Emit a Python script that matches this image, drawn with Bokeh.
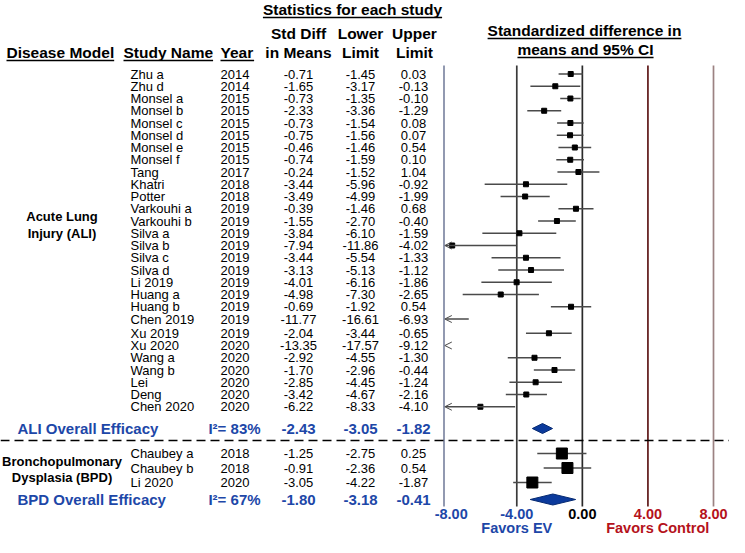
from bokeh.plotting import figure
from bokeh.models import Range1d, ColumnDataSource, Arrow, OpenHead
from bokeh.core.properties import value
from bokeh.embed import file_html
from bokeh.resources import INLINE

# ---------------- data ----------------
ali_names = ["Zhu a", "Zhu d", "Monsel a", "Monsel b", "Monsel c", "Monsel d", "Monsel e",
             "Monsel f", "Tang", "Khatri", "Potter", "Varkouhi a", "Varkouhi b", "Silva a",
             "Silva b", "Silva c", "Silva d", "Li 2019", "Huang a", "Huang b", "Chen 2019",
             "Xu 2019", "Xu 2020", "Wang a", "Wang b", "Lei", "Deng", "Chen 2020"]
ali_years = [2014, 2014, 2015, 2015, 2015, 2015, 2015, 2015, 2017, 2018, 2018, 2019, 2019,
             2019, 2019, 2019, 2019, 2019, 2019, 2019, 2019, 2019, 2020, 2020, 2020, 2020,
             2020, 2020]
ali_smd = [-0.71, -1.65, -0.73, -2.33, -0.73, -0.75, -0.46, -0.74, -0.24, -3.44, -3.49, -0.39,
           -1.55, -3.84, -7.94, -3.44, -3.13, -4.01, -4.98, -0.69, -11.77, -2.04, -13.35,
           -2.92, -1.70, -2.85, -3.42, -6.22]
ali_lower = [-1.45, -3.17, -1.35, -3.36, -1.54, -1.56, -1.46, -1.59, -1.52, -5.96, -4.99, -1.46,
             -2.70, -6.10, -11.86, -5.54, -5.13, -6.16, -7.30, -1.92, -16.61, -3.44, -17.57,
             -4.55, -2.96, -4.45, -4.67, -8.33]
ali_upper = [0.03, -0.13, -0.10, -1.29, 0.08, 0.07, 0.54, 0.10, 1.04, -0.92, -1.99, 0.68,
             -0.40, -1.59, -4.02, -1.33, -1.12, -1.86, -2.65, 0.54, -6.93, -0.65, -9.12,
             -1.30, -0.44, -1.24, -2.16, -4.10]
ali_overall = [-2.43, -3.05, -1.82]
ali_i2 = 83

bpd_names = ["Chaubey a", "Chaubey b", "Li 2020"]
bpd_years = [2018, 2018, 2020]
bpd_smd = [-1.25, -0.91, -3.05]
bpd_lower = [-2.75, -2.36, -4.22]
bpd_upper = [0.25, 0.54, -1.87]
bpd_overall = [-1.80, -3.18, -0.41]
bpd_i2 = 67

ticks = [-8, -4, 0, 4, 8]
tick_labels = ["-8.00", "-4.00", "0.00", "4.00", "8.00"]

# ---------------- layout ----------------
W, H = 729, 537
FONT = "Liberation Sans"
BLUE = "#1d47a8"
RED = "#b5121b"
LEFT_FRAME = -8.44                 # left edge of the forest panel (data units)
FRAME_PX, RIGHT_PX = 443.5, 713.0  # pixel of LEFT_FRAME and of the last tick
K = (RIGHT_PX - FRAME_PX) / (ticks[-1] - LEFT_FRAME)
X0 = FRAME_PX - LEFT_FRAME * K

p = figure(width=W, height=H, output_backend="svg", toolbar_location=None,
           x_range=Range1d((0 - X0) / K, (W - X0) / K),
           y_range=Range1d(H, 0), x_axis_type=None, y_axis_type=None,
           min_border=0, min_border_left=0, min_border_right=0,
           min_border_top=0, min_border_bottom=0)
p.extra_x_ranges = {"px": Range1d(0, W)}
p.grid.visible = False
p.outline_line_color = None
p.background_fill_color = "white"
p.border_fill_color = "white"

HB = {' ': 278, '%': 889, '(': 333, ')': 333, '-': 333, '.': 278, '=': 584}
for c in "0123456789":
    HB[c] = 556
HB.update(dict(zip("ABCDEFGHIJKLMNOPQRSTUVWXYZ",
                   [722, 722, 722, 722, 667, 611, 778, 722, 278, 556, 722, 611, 833, 722, 778,
                    667, 778, 722, 667, 611, 722, 667, 944, 667, 667, 611])))
HB.update(dict(zip("abcdefghijklmnopqrstuvwxyz",
                   [556, 611, 556, 611, 556, 333, 611, 611, 278, 278, 556, 278, 889, 611, 611,
                    611, 611, 389, 556, 333, 611, 556, 778, 556, 556, 500])))


def tw(s, size):
    return sum(HB.get(c, 556) for c in s) / 1000.0 * size


def txt(xs, ys, texts, size, bold=False, color="black", align="left", rng="px"):
    kw = dict(x=xs, y=ys, text=texts, text_font=value(FONT), text_font_size=f"{size}px",
              text_font_style="bold" if bold else "normal", text_color=color,
              text_align=align, text_baseline="middle")
    if rng:
        kw["x_range_name"] = rng
    p.text(**kw)


def header(x, y, s, size=15.5, align="left", underline=True):
    txt([x], [y], [s], size, bold=True, align=align)
    if underline:
        w = tw(s, size)
        x0 = x if align == "left" else x - w / 2
        p.segment(x0=[x0], y0=[y + 8], x1=[x0 + w], y1=[y + 8], x_range_name="px",
                  line_color="black", line_width=1.5)


# headers
header(352, 9, "Statistics for each study", align="center")
header(6, 52, "Disease Model")
header(123, 52, "Study Name")
header(220, 52, "Year")
header(298, 33, "Std Diff", align="center", underline=False)
header(298, 52, "in Means", align="center", underline=False)
header(360, 33, "Lower", align="center", underline=False)
header(360, 52, "Limit", align="center", underline=False)
header(414, 33, "Upper", align="center", underline=False)
header(414, 52, "Limit", align="center", underline=False)
header(584, 30, "Standardized difference in", align="center")
header(585, 49, "means and 95% CI", align="center")

# row positions
ali_y = [73.5 + 12.25 * i + (2 if i > 20 else 0) for i in range(len(ali_names))]
ali_ov_y = 428
dash_y = 440
bpd_y = [453 + 14.5 * i for i in range(len(bpd_names))]
bpd_ov_y = 499

# vertical reference lines
vx = [LEFT_FRAME] + ticks[1:]
vcol = ["#7f88a3", "#3a3a3a", "#2a2a2a", "#5e1717", "#9c8282"]
p.segment(x0=vx, y0=[65] * len(vx), x1=vx, y1=[506] * len(vx), line_color=vcol, line_width=1.7)

# disease model labels
txt([61.5, 61.5], [216, 233], ["Acute Lung", "Injury (ALI)"], 13, bold=True, align="center")
txt([61.5, 61.5], [461, 476.5], ["Bronchopulmonary", "Dysplasia (BPD)"], 13, bold=True,
    align="center")


def rows(names, years, smd, lo, hi, ys, sq):
    n = len(names)
    txt([130] * n, ys, names, 13)
    txt([234.5] * n, ys, [str(v) for v in years], 13, align="center")
    txt([298] * n, ys, [f"{v:.2f}" for v in smd], 13, align="center")
    txt([360] * n, ys, [f"{v:.2f}" for v in lo], 13, align="center")
    txt([413] * n, ys, [f"{v:.2f}" for v in hi], 13, align="center")
    inside = [i for i in range(n) if lo[i] >= ticks[0]]
    p.segment(x0=[lo[i] for i in inside], y0=[ys[i] for i in inside],
              x1=[hi[i] for i in inside], y1=[ys[i] for i in inside],
              line_color="#4a4a4a", line_width=1.3)
    cut = [i for i in range(n) if lo[i] < ticks[0] and hi[i] > LEFT_FRAME]
    if cut:
        src = ColumnDataSource(dict(xs=[hi[i] for i in cut], xe=[LEFT_FRAME + 0.05] * len(cut),
                                    y=[ys[i] for i in cut]))
        p.add_layout(Arrow(end=OpenHead(size=7, line_color="#4a4a4a", line_width=1),
                           x_start="xs", y_start="y", x_end="xe", y_end="y", source=src,
                           line_color="#4a4a4a", line_width=1.3))
    gone = [i for i in range(n) if hi[i] <= LEFT_FRAME]
    if gone:
        src = ColumnDataSource(dict(xs=[LEFT_FRAME + 0.3] * len(gone),
                                    xe=[LEFT_FRAME + 0.05] * len(gone),
                                    y=[ys[i] for i in gone]))
        p.add_layout(Arrow(end=OpenHead(size=7, line_color="#4a4a4a", line_width=1),
                           x_start="xs", y_start="y", x_end="xe", y_end="y", source=src,
                           line_alpha=0))
    pts = [i for i in range(n) if smd[i] >= ticks[0]]
    p.scatter(x=[smd[i] for i in pts], y=[ys[i] for i in pts], marker="square", size=sq,
              fill_color="black", line_color="black")


rows(ali_names, ali_years, ali_smd, ali_lower, ali_upper, ali_y, 5)
rows(bpd_names, bpd_years, bpd_smd, bpd_lower, bpd_upper, bpd_y, 11)


def overall(label, i2, ov, y, half):
    txt([17], [y], [label], 15, bold=True, color=BLUE)
    txt([234], [y], [f"I\u00b2= {i2}%"], 15, bold=True, color=BLUE, align="center")
    txt([298, 360, 413], [y] * 3, [f"{v:.2f}" for v in ov], 15, bold=True, color=BLUE,
        align="center")
    est, lo, hi = ov
    p.patches(xs=[[lo, est, hi, est]], ys=[[y, y - half, y, y + half]],
              fill_color="#0b3a9c", line_color="#062a72", line_width=1)


overall("ALI Overall Efficacy", ali_i2, ali_overall, ali_ov_y, 5)
overall("BPD Overall Efficacy", bpd_i2, bpd_overall, bpd_ov_y, 5.5)

# dashed separator
p.segment(x0=[0], y0=[dash_y], x1=[W], y1=[dash_y], x_range_name="px",
          line_color="black", line_width=1.5, line_dash="9 5")

# axis tick labels
tick_cols = [BLUE if t < 0 else (RED if t > 0 else "black") for t in ticks]
p.text(x=ticks, y=[513] * len(ticks), text=tick_labels, text_font=value(FONT),
       text_font_size="14.5px", text_font_style="bold", text_color=tick_cols,
       text_align="center", text_baseline="middle")

p.text(x=[ticks[1], 4.6], y=[527, 527], text=["Favors EV", "Favors Control"],
       text_font=value(FONT), text_font_size="14.5px", text_font_style="bold",
       text_color=[BLUE, RED], text_align="center", text_baseline="middle")

open("out.html", "w").write(file_html(p, INLINE))
